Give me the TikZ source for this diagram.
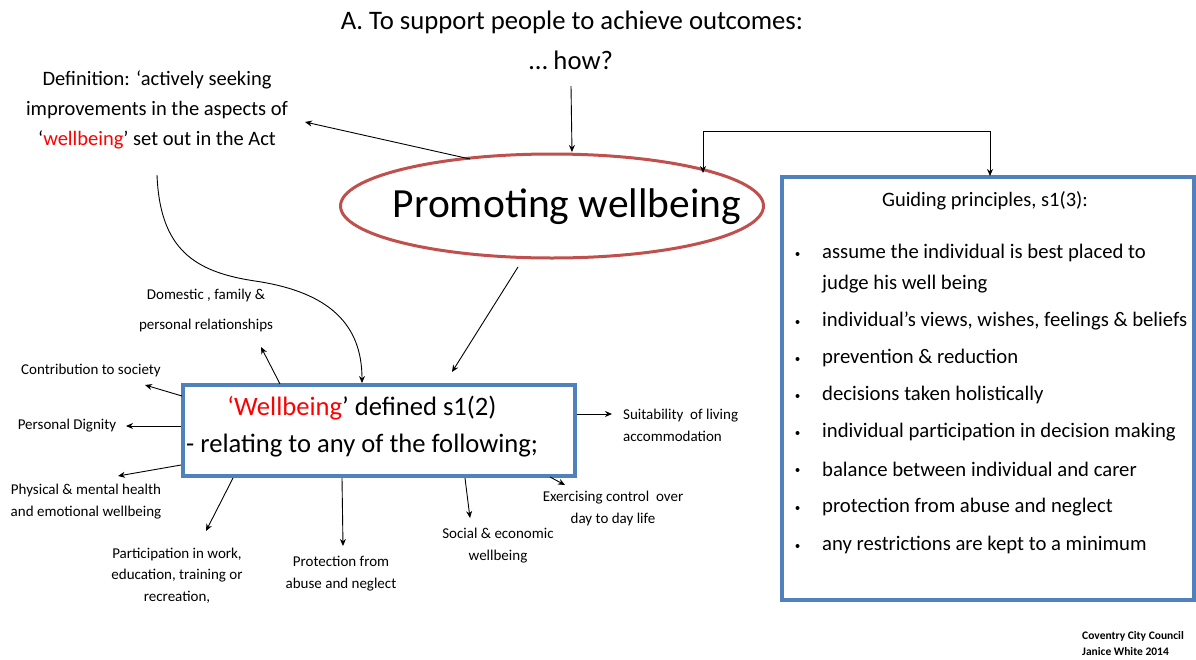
\documentclass[tikz,border=0pt]{standalone}
\usepackage{fontspec}
\setmainfont{Carlito}
\usetikzlibrary{arrows.meta,shapes.geometric}
\definecolor{boxblue}{RGB}{79,129,189}
\definecolor{ellred}{RGB}{192,80,77}
\definecolor{txtred}{RGB}{255,0,0}
\begin{document}
\begin{tikzpicture}[x=1pt,y=-1pt,
  arr/.style={-{Stealth[length=7pt,width=6pt]}, line width=0.9pt},
  lbl/.style={inner sep=0pt, align=center, font=\fontsize{15}{21.5}\selectfont},
  item/.style={inner sep=0pt, anchor=west, font=\fontsize{20.7}{31}\selectfont, align=left},
  bul/.style={circle, fill=black, inner sep=0pt, minimum size=4pt}]
\useasboundingbox[fill=white] (0,0) rectangle (1196,659);

% title
\node[inner sep=0pt, font=\fontsize{26.7}{30}\selectfont] (title) at (572,22) {A. To support people to achieve outcomes:};
\node[inner sep=0pt, font=\fontsize{26.7}{30}\selectfont] (how) at (571,60) {… how?};

% central ellipse
\node[ellipse, draw=ellred, line width=3pt, minimum width=423pt, minimum height=104pt] (pw) at (552,206) {};
\node[inner sep=0pt, font=\fontsize{41.5}{46}\selectfont] (pwt) at (567,207) {Promoting wellbeing};

% definition
\node[inner sep=0pt, align=center, font=\fontsize{20.5}{30}\selectfont] (def) at (157,110)
  {Definition: ‘actively seeking\\ improvements in the aspects of\\ ‘\textcolor{txtred}{wellbeing}’ set out in the Act};

% guiding principles box
\node[draw=boxblue, line width=3.5pt, minimum width=412pt, minimum height=423pt] (gp) at (988,388.5) {};
\node[inner sep=0pt, font=\fontsize{20.5}{24}\selectfont] (gpt) at (985,201) {Guiding principles, s1(3):};
\foreach \yy/\tx in {253/{assume the individual is best placed to},
                     321/{individual’s views, wishes, feelings \& beliefs},
                     358/{prevention \& reduction},
                     395/{decisions taken holistically},
                     432/{individual participation in decision making},
                     469/{balance between individual and carer},
                     507/{protection from abuse and neglect},
                     545/{any restrictions are kept to a minimum}}{
  \node[bul] at (797.5,\yy+1) {};
  \node[item] at (822,\yy) {\tx};
}
\node[item] (gp1b) at (822,284) {judge his well being};

% wellbeing box
\node[draw=boxblue, line width=3.5pt, minimum width=392pt, minimum height=91pt] (wb) at (379,430.5) {};
\node[inner sep=0pt, font=\fontsize{26.6}{30}\selectfont] (wbt1) at (362,408) {\textcolor{txtred}{‘Wellbeing}’ defined s1(2)};
\node[inner sep=0pt, anchor=west, font=\fontsize{26.6}{30}\selectfont] (wbt2) at (186,446) {- relating to any of the following;};

% satellite labels
\node[lbl, font=\fontsize{15}{30}\selectfont] (dom) at (206,310) {Domestic , family \&\\ personal relationships};
\node[lbl] (con) at (91,370) {Contribution to society};
\node[lbl] (dig) at (67,426) {Personal Dignity};
\node[lbl] (phy) at (86,501.5) {Physical \& mental health\\ and emotional wellbeing};
\node[lbl] (par) at (177,575.5) {Participation in work,\\ education, training or\\ recreation,};
\node[lbl, font=\fontsize{15}{22}\selectfont] (pro) at (341,574) {Protection from\\ abuse and neglect};
\node[lbl, font=\fontsize{15}{22}\selectfont] (soc) at (498,546) {Social \& economic\\ wellbeing};
\node[lbl] (exe) at (613,508.5) {Exercising control\ \ over\\ day to day life};
\node[lbl, align=left, anchor=west, font=\fontsize{15}{22}\selectfont] (sui) at (623,425) {Suitability\ \ of living\\ accommodation};

% footer
\node[inner sep=0pt, anchor=west, align=left, font=\fontsize{11.5}{16}\bfseries] (foot) at (1082,643.5) {Coventry City Council\\ Janice White 2014};

% arrows from top
\draw[arr] (571,86) coordinate (h1) -- (572,152) coordinate (h2);
\draw[arr] (470,159) coordinate (p1) -- (305,122) coordinate (d1);
\draw[{Stealth[length=7pt,width=6pt]}-{Stealth[length=7pt,width=6pt]}, line width=0.9pt]
  (703,173) coordinate (b1) -- (703,131) -- (990,131) -- (990,176) coordinate (b2);
\draw[line width=0.9pt, -{Stealth[length=7pt,width=6pt]}] (157,175) coordinate (c1)
  .. controls (160,250) and (195,272) .. (255,281)
  .. controls (330,292) and (362,325) .. (362,383) coordinate (c2);
\draw[arr] (518,267) coordinate (p2) -- (452,372) coordinate (w1);

% arrows from wellbeing box
\draw[arr] (280,384) coordinate (s1) -- (261,347) coordinate (e1);
\draw[arr] (182,396) coordinate (s2) -- (145,385) coordinate (e2);
\draw[arr] (181,426) coordinate (s3) -- (126,426) coordinate (e3);
\draw[arr] (181,465) coordinate (s4) -- (118,476) coordinate (e4);
\draw[arr] (233,478) coordinate (s5) -- (206,531) coordinate (e5);
\draw[arr] (342,478) coordinate (s6) -- (343,546) coordinate (e6);
\draw[arr] (465,478) coordinate (s7) -- (470,518) coordinate (e7);
\draw[arr] (550,477) coordinate (s8) -- (565,485) coordinate (e8);
\draw[arr] (577,414) coordinate (s9) -- (612,414) coordinate (e9);
\end{tikzpicture}
\end{document}
